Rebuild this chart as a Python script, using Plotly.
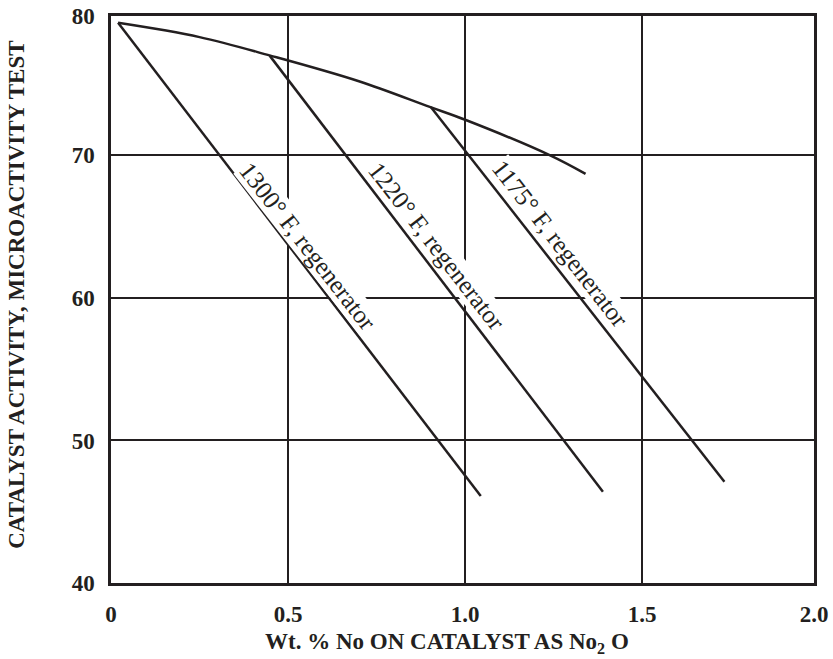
import plotly.graph_objects as go

# envelope curve (fresh catalyst activity)
curve_x = [0.02, 0.25, 0.45, 0.70, 0.90, 1.00, 1.24, 1.34]
curve_y = [79.3, 78.3, 77.0, 75.2, 73.4, 72.5, 70.0, 68.7]

# regenerator temperature lines
line_1300_x = [0.02, 1.044]
line_1300_y = [79.3, 46.1]
line_1220_x = [0.448, 1.389]
line_1220_y = [77.0, 46.4]
line_1175_x = [0.903, 1.732]
line_1175_y = [73.4, 47.1]

labels = ["1300° F, regenerator", "1220° F, regenerator", "1175° F, regenerator"]
label_x = [0.556, 0.920, 1.268]
label_y = [63.6, 63.6, 63.8]

# the printed grid is slightly short on the right and top edges
x_range = [0, 1.985]
y_range = [40, 79.78]
x_ticks = [0, 0.5, 1.0, 1.5, 1.985]
x_ticktext = ["0", "0.5", "1.0", "1.5", "2.0"]
y_ticks = [40, 50, 60, 70, 79.78]
y_ticktext = ["40", "50", "60", "70", "80"]

ink = "#231f20"
serif = "Liberation Serif"

fig = go.Figure()
line_style = dict(color=ink, width=2.5)
fig.add_trace(go.Scatter(x=curve_x, y=curve_y, mode="lines",
                         line=dict(color=ink, width=2.5, shape="spline")))
for lx, ly in [(line_1300_x, line_1300_y), (line_1220_x, line_1220_y),
               (line_1175_x, line_1175_y)]:
    fig.add_trace(go.Scatter(x=lx, y=ly, mode="lines", line=line_style))

for txt, ax_, ay_ in zip(labels, label_x, label_y):
    fig.add_annotation(x=ax_, y=ay_, text=txt, showarrow=False, textangle=52,
                       bgcolor="white", borderpad=0,
                       font=dict(family=serif, size=25, color=ink))

axis_common = dict(
    showgrid=True, gridcolor=ink, gridwidth=2,
    showline=True, linecolor=ink, linewidth=2.5, mirror=True,
    zeroline=False, ticks="", ticklabelstandoff=9, automargin=False,
    ticklabeloverflow="allow",
    tickfont=dict(family=serif, size=23, color=ink, weight="bold"),
)

fig.update_xaxes(range=x_range, tickvals=x_ticks, ticktext=x_ticktext, **axis_common)
fig.update_yaxes(range=y_range, tickvals=y_ticks, ticktext=y_ticktext, **axis_common)

fig.add_annotation(x=0.478, y=-0.106, xref="paper", yref="paper",
                   text="Wt. % No ON CATALYST AS No<sub>2</sub> O", showarrow=False,
                   xanchor="center", yanchor="middle",
                   font=dict(family=serif, size=23, color=ink, weight="bold"))
fig.add_annotation(x=-0.134, y=0.508, xref="paper", yref="paper",
                   text="CATALYST ACTIVITY, MICROACTIVITY TEST", showarrow=False,
                   textangle=-90, xanchor="center", yanchor="middle",
                   font=dict(family=serif, size=23, color=ink, weight="bold"))

fig.update_layout(
    width=833, height=659,
    margin=dict(l=111, r=19, t=16, b=76),
    plot_bgcolor="white", paper_bgcolor="white",
    showlegend=False,
)

# drop the default page margin so the figure fills the window exactly
fig.write_html("out.html", config={"displayModeBar": False},
               post_script="document.body.style.margin='0';"
                           "document.body.style.overflow='hidden';")
